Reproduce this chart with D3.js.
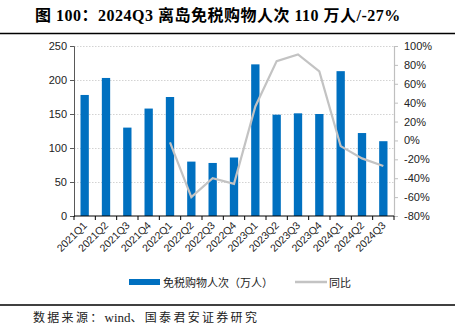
<!DOCTYPE html>
<html><head><meta charset="utf-8">
<script src="https://cdn.jsdelivr.net/npm/d3@7"></script>
<style>body{margin:0;background:#fff}svg{display:block}</style>
</head><body>
<script>
const categories = ["2021Q1","2021Q2","2021Q3","2021Q4","2022Q1","2022Q2","2022Q3","2022Q4","2023Q1","2023Q2","2023Q3","2023Q4","2024Q1","2024Q2","2024Q3"];
const visits = [178,203,130,158,175,80,78,86,223,149,151,150,213,122,110];
const yoy = [null,null,null,null,-2,-60,-40,-46,36,84,91,73,-6,-19,-27];
const leftTicks = [0,50,100,150,200,250];
const rightTicks = [-80,-60,-40,-20,0,20,40,60,80,100];
const titleText = "图 100：2024Q3 离岛免税购物人次 110 万人/-27%";
const sourceParts = ["数据来源：","wind","、国泰君安证券研究"];
const legendLabels = ["免税购物人次（万人）","同比"];

const W=459,H=329;
const svg=d3.select("body").append("svg").attr("width",W).attr("height",H);
const L=74,R=394,T=46,B=216;
const x=d3.scaleBand().domain(categories).range([L,R]).paddingInner(0.61).paddingOuter(0.305);
const yL=d3.scaleLinear().domain([0,250]).range([B,T]);
const yR=d3.scaleLinear().domain([-80,100]).range([B,T]);
const sans="Liberation Sans, Arial, Noto Sans CJK SC, sans-serif";
const serif="Liberation Serif, Noto Sans CJK SC, serif";

// title
svg.append("text").attr("x",35).attr("y",21).attr("font-family",serif)
 .attr("font-weight","bold").attr("font-size",16).attr("letter-spacing",0.5).attr("fill","#000").text(titleText);
svg.append("line").attr("x1",0).attr("x2",455).attr("y1",33.5).attr("y2",33.5).attr("stroke","#000").attr("stroke-width",1.3);

// grid
svg.append("g").selectAll("line").data(leftTicks.filter(d=>d>0)).join("line")
 .attr("x1",L).attr("x2",R).attr("y1",d=>Math.round(yL(d))+0.5).attr("y2",d=>Math.round(yL(d))+0.5)
 .attr("stroke","#c8c8c8").attr("stroke-dasharray","1.5,1.5").attr("stroke-width",0.8);

// bars
svg.append("g").selectAll("rect").data(visits).join("rect")
 .attr("x",(d,i)=>x(categories[i])).attr("width",x.bandwidth())
 .attr("y",d=>yL(d)).attr("height",d=>B-yL(d)).attr("fill","#0070c0");

// line
const lineGen=d3.line().defined(d=>d!=null).x((d,i)=>x(categories[i])+x.bandwidth()/2).y(d=>yR(d));
svg.append("path").datum(yoy).attr("d",lineGen).attr("fill","none").attr("stroke","#c3c3c3").attr("stroke-width",2.2);

// left axis
const gl=svg.append("g").attr("transform",`translate(${L},0)`)
 .call(d3.axisLeft(yL).tickValues(leftTicks).tickSize(4).tickPadding(3));
gl.select(".domain").attr("stroke","#595959").attr("stroke-width",1);
gl.selectAll(".tick line").attr("stroke","#595959");
gl.selectAll("text").attr("font-family",sans).attr("font-size",11).attr("fill","#222");

// right axis
const gr=svg.append("g").attr("transform",`translate(${R},0)`)
 .call(d3.axisRight(yR).tickValues(rightTicks).tickSize(4).tickPadding(6).tickFormat(d=>d+"%"));
gr.select(".domain").attr("stroke","#bfbfbf").attr("stroke-width",1.2);
gr.selectAll(".tick line").attr("stroke","#bfbfbf");
gr.selectAll("text").attr("font-family",sans).attr("font-size",11).attr("fill","#222");

// bottom axis
const gb=svg.append("g").attr("transform",`translate(0,${B})`);
gb.append("line").attr("x1",L).attr("x2",R).attr("stroke","#000").attr("stroke-width",1);
const step=x.step();
gb.selectAll("line.t").data(d3.range(categories.length+1)).join("line").attr("class","t")
 .attr("x1",i=>L+i*step).attr("x2",i=>L+i*step).attr("y1",0).attr("y2",4).attr("stroke","#000");
gb.selectAll("text").data(categories).join("text")
 .attr("transform",d=>`translate(${x(d)+x.bandwidth()/2+3},${10}) rotate(-45)`)
 .attr("text-anchor","end").attr("font-family",sans).attr("font-size",10.5).attr("fill","#222").text(d=>d);

// legend
const lg=svg.append("g");
lg.append("rect").attr("x",129).attr("y",279).attr("width",31).attr("height",6).attr("fill","#0070c0");
lg.append("text").attr("x",163).attr("y",286.5).attr("font-family",sans).attr("font-size",11).attr("fill","#222").text(legendLabels[0]);
lg.append("line").attr("x1",295).attr("x2",327).attr("y1",282).attr("y2",282).attr("stroke","#c3c3c3").attr("stroke-width",2.5);
lg.append("text").attr("x",329).attr("y",286.5).attr("font-family",sans).attr("font-size",11).attr("fill","#222").text(legendLabels[1]);

// bottom
svg.append("line").attr("x1",0).attr("x2",455).attr("y1",305).attr("y2",305).attr("stroke","#000").attr("stroke-width",1.3);
const src=svg.append("text").attr("x",33).attr("y",322).attr("font-family",serif)
 .attr("font-size",12).attr("fill","#222");
src.append("tspan").attr("letter-spacing",2.3).text(sourceParts[0]);
src.append("tspan").attr("font-size",13).text(sourceParts[1]);
src.append("tspan").attr("letter-spacing",2.3).text(sourceParts[2]);
</script>
</body></html>
